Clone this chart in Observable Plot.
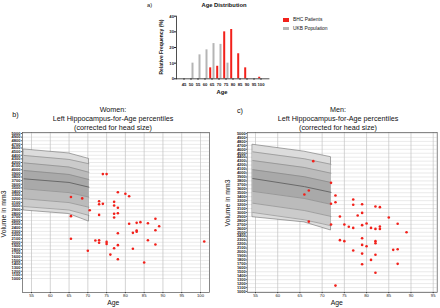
<!DOCTYPE html>
<html><head><meta charset="utf-8">
<script src="https://cdn.jsdelivr.net/npm/d3@7"></script>
<script src="https://cdn.jsdelivr.net/npm/@observablehq/plot@0.6"></script>
<style>
body{margin:0;background:#fff;}
#wrap{position:relative;width:440px;height:308px;overflow:hidden;font-family:"Liberation Sans",Arial,sans-serif;color:#111;background:#fff;}
#wrap svg{position:absolute;left:0;top:0;}
.t{position:absolute;white-space:nowrap;line-height:1;}
.sw{position:absolute;}
</style></head><body><div id="wrap"></div>
<script>
// ---------- data: a) age distribution ----------
const ageBins = ["45","50","55","60","65","70","75","80","85","90","95","100"];
const bhcPct  = [0, 0, 0, 0, 7, 8, 30, 31.5, 16, 7, 0, 1];
const ukbPct  = [0, 10, 15.3, 18.5, 22.5, 22, 10, 0, 0, 0, 0, 0];
const pctTicks = [0, 10, 20, 30, 40];

// ---------- data: b) women ----------
const womenAge = [74,75,78,80,81,65.5,68.5,73,73,74,77,77,70.5,78,73,77,78,77,65.5,88,81,83,84,86,89,88,83,83,82,78,65.5,72,73,73,75,75,86,88,101,78,77,82,70,76,78,85];
const womenVol = [3880,3880,3380,3340,3270,3250,3210,3130,3050,3060,3115,3015,2885,2950,2755,2785,2800,2685,2720,2650,2510,2535,2555,2525,2440,2330,2325,2290,2260,2250,2095,2050,2055,1985,2010,1955,2055,1940,2020,1920,1835,1820,1765,1660,1530,1440];
const wBandAge = [53, 65, 70.3];
const wP975 = [4560, 4450, 4300];
const wP95  = [4395, 4285, 4165];
const wP90  = [4190, 4075, 3930];
const wP75  = [3980, 3870, 3730];
const wP50  = [3750, 3650, 3520];
const wP25  = [3475, 3370, 3245];
const wP10  = [3200, 3095, 2965];
const wP05  = [2985, 2890, 2740];
const wP025 = [2875, 2780, 2570];

// ---------- data: c) men ----------
const menAge = [68,72,67,66,73,72,73,77,77,79,82,83,79,78,74,85,67,72,75,80,76,79,77,81,82,83,83,87,89,74,75,79,82,82,79,80,77,79,82,86,87,81,79,87,82,73];
const menVol = [4300,3750,3555,3455,3430,3220,3260,3330,3195,3210,3150,3135,2990,2925,2900,2875,2770,2695,2695,2720,2640,2680,2610,2610,2585,2645,2585,2715,2500,2300,2275,2350,2275,2220,2180,2145,2040,1960,1930,2055,2070,1800,1690,1700,1475,1150];
const mBandAge = [54.4, 66, 72];
const mP975 = [4715, 4540, 4400];
const mP95  = [4535, 4360, 4220];
const mP90  = [4315, 4140, 3995];
const mP75  = [4085, 3905, 3760];
const mP50  = [3860, 3655, 3510];
const mP25  = [3535, 3355, 3205];
const mP10  = [3235, 3050, 2900];
const mP05  = [3000, 2815, 2665];
const mP025 = [2880, 2750, 2545];

const volTicks = d3.range(1000, 5001, 100);
const FONT = '"Liberation Sans", Arial, sans-serif';
const RED = "#f2211b";
const wrap = document.getElementById("wrap");

function txt(s, x, y, size, opts = {}) {
  const d = document.createElement("div");
  d.className = "t";
  d.textContent = s;
  d.style.fontSize = size + "px";
  d.style.fontWeight = opts.bold ? "bold" : "normal";
  d.style.left = x + "px";
  d.style.top = y + "px";
  const ax = opts.align === "left" ? "0" : "-50%";
  d.style.transform = `translate(${ax},-50%)`;
  if (opts.rot) { d.style.transformOrigin = "0 0"; d.style.transform = `rotate(${opts.rot}deg) translate(-50%,-50%)`; }
  wrap.appendChild(d);
}
function swatch(x, y, w, h, c) {
  const d = document.createElement("div");
  d.className = "sw";
  Object.assign(d.style, {left: x + "px", top: y + "px", width: w + "px", height: h + "px", background: c});
  wrap.appendChild(d);
}

// ---------- a) bar chart ----------
const dist = ageBins.map((b, i) => ({bin: b, bhc: bhcPct[i], ukb: ukbPct[i]}));
const barChart = Plot.plot({
  width: 440, height: 308,
  marginLeft: 176, marginRight: 440 - 268.4, marginTop: 15.7, marginBottom: 308 - 78.3,
  style: {fontFamily: FONT, fontSize: "4px", background: "transparent", overflow: "visible"},
  x: {type: "band", domain: ageBins, padding: 0},
  y: {domain: [0, 40]},
  marks: [
    Plot.barY(dist, {x: "bin", y: "bhc", fill: RED, insetLeft: 1.2, insetRight: 3.8}),
    Plot.barY(dist, {x: "bin", y: "ukb", fill: "#b5b5b5", insetLeft: 4.5, insetRight: 0.5}),
    Plot.axisX({tickSize: 1.5, tickPadding: 2.3, fontSize: 4.2, fontWeight: "bold", label: null, stroke: "#222", fill: "#222"}),
    Plot.axisY({ticks: pctTicks, tickSize: 2, tickPadding: 0.5, fontSize: 4.2, fontWeight: "bold", label: null, stroke: "#222", fill: "#222"}),
    Plot.frame({anchor: "left", stroke: "#222", strokeWidth: 0.8}),
    Plot.frame({anchor: "bottom", stroke: "#222", strokeWidth: 0.8})
  ]
});
wrap.appendChild(barChart);

// ---------- b), c) percentile panels ----------
function bandRows(ages, p025, p05, p10, p25, p50, p75, p90, p95, p975) {
  return ages.map((a, i) => ({age: a, p025: p025[i], p05: p05[i], p10: p10[i], p25: p25[i], p50: p50[i], p75: p75[i], p90: p90[i], p95: p95[i], p975: p975[i]}));
}
function panel(cfg) {
  const pts = cfg.ages.map((a, i) => ({age: a, vol: cfg.vols[i]}));
  const band = cfg.band;
  const lineKeys = ["p05", "p10", "p25", "p75", "p90", "p95"];
  return Plot.plot({
    width: 440, height: 308,
    marginLeft: cfg.left, marginRight: 440 - cfg.right, marginTop: 132, marginBottom: 16,
    style: {fontFamily: FONT, fontSize: "4px", background: "transparent", overflow: "visible"},
    x: {domain: cfg.xDomain},
    y: {domain: cfg.yDomain},
    marks: [
      Plot.gridY(volTicks, {stroke: "#d4d4d4", strokeOpacity: 1, strokeWidth: 0.5}),
      Plot.gridX(cfg.xTicks, {stroke: "#c2c2c2", strokeOpacity: 1, strokeWidth: 0.7}),
      Plot.areaY(band, {x: "age", y1: "p025", y2: "p975", fill: "#dcdcdc", stroke: "#6e6e6e", strokeWidth: 0.6}),
      Plot.areaY(band, {x: "age", y1: "p05", y2: "p95", fill: "#cbcbcb"}),
      Plot.areaY(band, {x: "age", y1: "p10", y2: "p90", fill: "#bbbbbb"}),
      Plot.areaY(band, {x: "age", y1: "p25", y2: "p75", fill: "#a9a9a9"}),
      ...lineKeys.map(k => Plot.line(band, {x: "age", y: k, stroke: "#7d7d7d", strokeWidth: 0.55})),
      Plot.line(band, {x: "age", y: "p50", stroke: "#626262", strokeWidth: 0.9}),
      Plot.dot(pts, {x: "age", y: "vol", r: 1.3, fill: RED}),
      Plot.frame({stroke: "#555", strokeWidth: 0.7}),
      Plot.axisX({ticks: cfg.xTicks, tickSize: 1.2, tickPadding: 0.6, fontSize: 4.2, label: null, stroke: "#333", fill: "#222"}),
      Plot.axisY({ticks: volTicks, tickFormat: d => String(d), tickSize: 0.8, tickPadding: cfg.tickPad, fontSize: 4, fontWeight: "bold", label: null, stroke: "#333", fill: "#222"})
    ]
  });
}
wrap.appendChild(panel({
  ages: womenAge, vols: womenVol,
  band: bandRows(wBandAge, wP025, wP05, wP10, wP25, wP50, wP75, wP90, wP95, wP975),
  left: 22, right: 209, xDomain: [52.6, 102.4], yDomain: [614, 5028],
  xTicks: d3.range(55, 101, 5), tickPad: 1.2
}));
wrap.appendChild(panel({
  ages: menAge, vols: menVol,
  band: bandRows(mBandAge, mP025, mP05, mP10, mP25, mP50, mP75, mP90, mP95, mP975),
  left: 246.7, right: 436.7, xDomain: [53.13, 95.9], yDomain: [975, 5025],
  xTicks: d3.range(55, 96, 5), tickPad: 0.6
}));

// ---------- texts ----------
txt("a)", 149.5, 5.5, 5.8);
txt("Age Distribution", 224, 6, 5.8, {bold: true});
txt("Relative Frequency (%)", 160.7, 47, 5, {bold: true, rot: -90});
txt("Age", 222, 93, 5.8, {bold: true});
swatch(282.7, 18.3, 6.6, 3.4, RED);
swatch(282.7, 27, 6.6, 3.4, "#b5b5b5");
txt("BHC Patients", 293, 20, 4.9, {align: "left"});
txt("UKB Population", 293, 29, 4.9, {align: "left"});

txt("b)", 15.5, 115, 7.2);
txt("Women:", 113, 110, 7.2);
txt("Left Hippocampus-for-Age percentiles", 113, 119, 7.2);
txt("(corrected for head size)", 113, 128.3, 7.2);
txt("Volume in mm3", 3.6, 214, 6.8, {rot: -90});
txt("Age", 113.3, 303.3, 6.8);

txt("c)", 240, 110.5, 7.2);
txt("Men:", 338, 110, 7.2);
txt("Left Hippocampus-for-Age percentiles", 338, 119, 7.2);
txt("(corrected for head size)", 338, 128.3, 7.2);
txt("Volume in mm3", 228.4, 203, 6.8, {rot: -90});
txt("Age", 336.7, 303.3, 6.8);
</script></body></html>
